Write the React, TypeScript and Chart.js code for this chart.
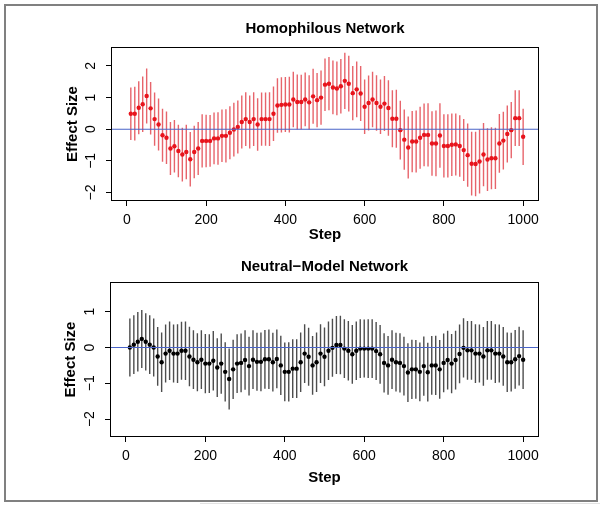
import React, { useEffect, useRef } from "react";
import { Chart, registerables } from "chart.js";

Chart.register(...registerables);

const FONT = '"Liberation Sans", Arial, Helvetica, sans-serif';

const STEPS = [
  10, 20, 30, 40, 50, 60, 70, 80, 90, 100,
  110, 120, 130, 140, 150, 160, 170, 180, 190, 200,
  210, 220, 230, 240, 250, 260, 270, 280, 290, 300,
  310, 320, 330, 340, 350, 360, 370, 380, 390, 400,
  410, 420, 430, 440, 450, 460, 470, 480, 490, 500,
  510, 520, 530, 540, 550, 560, 570, 580, 590, 600,
  610, 620, 630, 640, 650, 660, 670, 680, 690, 700,
  710, 720, 730, 740, 750, 760, 770, 780, 790, 800,
  810, 820, 830, 840, 850, 860, 870, 880, 890, 900,
  910, 920, 930, 940, 950, 960, 970, 980, 990, 1000,
];

const HOMO_EFFECT = [
  0.49, 0.49, 0.68, 0.79, 1.05, 0.66, 0.32, 0.15, -0.19, -0.27,
  -0.61, -0.54, -0.69, -0.8, -0.72, -0.95, -0.72, -0.61, -0.37, -0.37,
  -0.37, -0.29, -0.29, -0.21, -0.21, -0.11, -0.01, 0.07, 0.23, 0.32,
  0.23, 0.32, 0.15, 0.32, 0.32, 0.32, 0.49, 0.75, 0.77, 0.78,
  0.78, 0.94, 0.86, 0.86, 0.94, 0.85, 1.04, 0.92, 1.0, 1.41,
  1.44, 1.32, 1.29, 1.36, 1.53, 1.44, 1.14, 1.26, 1.13, 0.71,
  0.83, 0.94, 0.83, 0.71, 0.81, 0.67, 0.33, 0.33, -0.03, -0.33,
  -0.58, -0.39, -0.39, -0.27, -0.18, -0.18, -0.45, -0.45, -0.2, -0.53,
  -0.53, -0.49, -0.48, -0.53, -0.66, -0.82, -1.09, -1.1, -1.02, -0.8,
  -0.96, -0.92, -0.92, -0.45, -0.36, -0.15, -0.03, 0.35, 0.35, -0.24,
];

const HOMO_ERR = [
  0.83, 0.85, 0.84, 0.88, 0.87, 0.83, 0.84, 0.82, 0.84, 0.83,
  0.84, 0.83, 0.83, 0.85, 0.86, 0.86, 0.83, 0.84, 0.84, 0.83,
  0.82, 0.82, 0.83, 0.83, 0.84, 0.84, 0.85, 0.84, 0.84, 0.85,
  0.84, 0.85, 0.83, 0.84, 0.84, 0.85, 0.86, 0.86, 0.87, 0.87,
  0.88, 0.88, 0.87, 0.86, 0.85, 0.86, 0.87, 0.86, 0.86, 0.83,
  0.84, 0.85, 0.85, 0.86, 0.89, 0.88, 0.86, 0.88, 0.87, 0.86,
  0.87, 0.88, 0.88, 0.86, 0.87, 0.88, 0.9, 0.92, 0.93, 0.95,
  0.98, 0.97, 0.98, 0.98, 0.99, 1.0, 1.02, 1.04, 1.02, 1.0,
  1.0, 0.99, 0.98, 0.97, 0.98, 1.0, 1.01, 1.02, 1.01, 1.0,
  0.99, 0.98, 0.97, 0.93, 0.91, 0.9, 0.89, 0.88, 0.88, 0.89,
];

const NEUTRAL_EFFECT = [
  0.0, 0.08, 0.16, 0.24, 0.16, 0.08, 0.0, -0.25, -0.41, -0.17,
  -0.09, -0.17, -0.17, -0.09, -0.09, -0.25, -0.34, -0.41, -0.34, -0.45,
  -0.45, -0.37, -0.56, -0.45, -0.68, -0.88, -0.61, -0.45, -0.43, -0.35,
  -0.52, -0.34, -0.4, -0.4, -0.33, -0.33, -0.41, -0.32, -0.5, -0.68,
  -0.68, -0.59, -0.59, -0.41, -0.17, -0.26, -0.5, -0.41, -0.17, -0.26,
  -0.09, -0.01, 0.07, 0.07, -0.03, -0.09, -0.19, -0.09, -0.03, -0.03,
  -0.03, -0.03, -0.1, -0.19, -0.43, -0.5, -0.34, -0.41, -0.43, -0.52,
  -0.7, -0.61, -0.61, -0.68, -0.52, -0.69, -0.5, -0.5, -0.61, -0.43,
  -0.35, -0.45, -0.35, -0.18, -0.01, -0.08, -0.08, -0.17, -0.17, -0.25,
  -0.08, -0.08, -0.17, -0.17, -0.25, -0.41, -0.41, -0.33, -0.24, -0.34,
];

const NEUTRAL_ERR = [
  0.81, 0.82, 0.83, 0.81, 0.8, 0.82, 0.81, 0.82, 0.83, 0.81,
  0.82, 0.81, 0.82, 0.81, 0.82, 0.83, 0.82, 0.81, 0.82, 0.83,
  0.82, 0.83, 0.82, 0.84, 0.83, 0.85, 0.83, 0.82, 0.82, 0.83,
  0.82, 0.82, 0.81, 0.82, 0.82, 0.83, 0.82, 0.82, 0.83, 0.82,
  0.83, 0.82, 0.82, 0.83, 0.82, 0.81, 0.82, 0.83, 0.82, 0.82,
  0.82, 0.81, 0.81, 0.82, 0.82, 0.83, 0.82, 0.82, 0.82, 0.81,
  0.82, 0.82, 0.81, 0.82, 0.83, 0.82, 0.82, 0.82, 0.83, 0.82,
  0.82, 0.83, 0.82, 0.82, 0.83, 0.82, 0.82, 0.83, 0.82, 0.82,
  0.82, 0.83, 0.82, 0.82, 0.83, 0.82, 0.82, 0.82, 0.81, 0.82,
  0.82, 0.82, 0.82, 0.81, 0.82, 0.83, 0.82, 0.82, 0.82, 0.82,
];

const X_TICKS = [0, 200, 400, 600, 800, 1000];
const HOMO_Y_TICKS = [-2, -1, 0, 1, 2];
const NEUTRAL_Y_TICKS = [-2, -1, 0, 1];
const X_MIN = -40;
const X_MAX = 1040;

type PanelProps = {
  title: string;
  values: number[];
  errs: number[];
  yTicks: number[];
  yMin: number;
  yMax: number;
  pointColor: string;
  barColor: string;
  offsetTop: number;
  height: number;
  areaLeft: number;
  areaRight: number;
  areaTop: number;
  xAxisHeight: number;
  titleBaseline: number;
  stepBaseline: number;
  yTickX: number;
  yTitleX: number;
};

const fmt = (v: number) => (v < 0 ? "\u2212" + Math.abs(v) : String(v));

function decorPlugin(p: PanelProps) {
  return {
    id: "rDecor",
    afterDraw(chart: any) {
      const { ctx, chartArea: a, scales } = chart;
      ctx.save();
      ctx.strokeStyle = "#000";
      ctx.lineWidth = 1;
      const l = Math.round(a.left) + 0.5;
      const t = Math.round(a.top) + 0.5;
      const r = Math.round(a.right) - 0.5;
      const b = Math.round(a.bottom) - 0.5;
      ctx.strokeRect(l, t, r - l, b - t);

      ctx.fillStyle = "#000";
      ctx.textBaseline = "alphabetic";
      ctx.textAlign = "center";
      const cx = (a.left + a.right) / 2;
      ctx.font = `bold 15px ${FONT}`;
      ctx.fillText(p.title, cx, p.titleBaseline);
      ctx.fillText("Step", cx, p.stepBaseline);

      ctx.font = `14px ${FONT}`;
      p.yTicks.forEach((v) => {
        const y = scales.y.getPixelForValue(v);
        ctx.save();
        ctx.translate(p.yTickX, y);
        ctx.rotate(-Math.PI / 2);
        ctx.fillText(fmt(v), 0, 0);
        ctx.restore();
      });

      ctx.font = `bold 15px ${FONT}`;
      ctx.save();
      ctx.translate(p.yTitleX, (a.top + a.bottom) / 2);
      ctx.rotate(-Math.PI / 2);
      ctx.fillText("Effect Size", 0, 0);
      ctx.restore();
      ctx.restore();
    },
  };
}

function buildConfig(p: PanelProps): any {
  const bars: { x: number; y: number | null }[] = [];
  STEPS.forEach((s, i) => {
    bars.push({ x: s, y: p.values[i] - p.errs[i] });
    bars.push({ x: s, y: p.values[i] + p.errs[i] });
    bars.push({ x: s, y: null });
  });
  const points = STEPS.map((s, i) => ({ x: s, y: p.values[i] }));
  const gridCommon = {
    display: true,
    drawOnChartArea: false,
    drawTicks: true,
    tickLength: 5,
    color: "#000",
    lineWidth: 1,
  };
  return {
    type: "scatter",
    data: {
      datasets: [
        {
          data: [
            { x: X_MIN, y: 0 },
            { x: X_MAX, y: 0 },
          ],
          showLine: true,
          borderColor: "#4a64c8",
          borderWidth: 1.1,
          pointRadius: 0,
          order: 0,
        },
        {
          data: points,
          showLine: false,
          pointRadius: 2.2,
          pointBackgroundColor: p.pointColor,
          pointBorderColor: p.pointColor,
          pointBorderWidth: 0,
          order: 1,
        },
        {
          data: bars,
          showLine: true,
          spanGaps: false,
          borderColor: p.barColor,
          borderWidth: 1.4,
          pointRadius: 0,
          order: 2,
        },
      ],
    },
    options: {
      animation: false,
      responsive: false,
      events: [],
      layout: {
        padding: { left: 0, top: p.areaTop, right: 600 - p.areaRight, bottom: 0 },
      },
      plugins: {
        legend: { display: false },
        tooltip: { enabled: false },
        title: { display: false },
      },
      scales: {
        x: {
          type: "linear",
          min: X_MIN,
          max: X_MAX,
          afterFit: (s: any) => {
            s.height = p.xAxisHeight;
          },
          afterBuildTicks: (s: any) => {
            s.ticks = X_TICKS.map((v) => ({ value: v }));
          },
          grid: gridCommon,
          border: { display: false },
          ticks: {
            font: { family: FONT, size: 14 },
            color: "#000",
            padding: 6,
            maxRotation: 0,
            autoSkip: false,
            callback: (v: number) => String(v),
          },
        },
        y: {
          type: "linear",
          min: p.yMin,
          max: p.yMax,
          afterFit: (s: any) => {
            s.width = p.areaLeft;
          },
          afterBuildTicks: (s: any) => {
            s.ticks = p.yTicks.map((v) => ({ value: v }));
          },
          grid: gridCommon,
          border: { display: false },
          ticks: { display: false },
        },
      },
    },
    plugins: [decorPlugin(p)],
  };
}

function Panel(p: PanelProps) {
  const ref = useRef<HTMLCanvasElement>(null);
  useEffect(() => {
    const chart = new Chart(ref.current as HTMLCanvasElement, buildConfig(p));
    return () => chart.destroy();
  }, []);
  return (
    <canvas
      ref={ref}
      width={600}
      height={p.height}
      style={{ position: "absolute", left: 0, top: p.offsetTop, width: 600, height: p.height }}
    />
  );
}

export default function App() {
  return (
    <div
      style={{
        position: "fixed",
        left: 0,
        top: 0,
        width: 600,
        height: 505,
        background: "#fff",
        overflow: "hidden",
      }}
    >
      <div
        style={{
          position: "absolute",
          left: 4,
          top: 4,
          width: 594,
          height: 498,
          boxSizing: "border-box",
          border: "2px solid #808080",
        }}
      />
      <div
        style={{
          position: "absolute",
          left: 200,
          top: 503,
          width: 400,
          height: 1,
          background: "#e2e2e2",
        }}
      />
      <Panel
        title="Homophilous Network"
        values={HOMO_EFFECT}
        errs={HOMO_ERR}
        yTicks={HOMO_Y_TICKS}
        yMin={-2.27}
        yMax={2.6}
        pointColor="#e8141c"
        barColor="rgba(222,40,50,0.72)"
        offsetTop={0}
        height={250}
        areaLeft={111}
        areaRight={539}
        areaTop={47}
        xAxisHeight={49}
        titleBaseline={33}
        stepBaseline={239}
        yTickX={94.5}
        yTitleX={77}
      />
      <Panel
        title={"Neutral\u2212Model Network"}
        values={NEUTRAL_EFFECT}
        errs={NEUTRAL_ERR}
        yTicks={NEUTRAL_Y_TICKS}
        yMin={-2.5}
        yMax={1.83}
        pointColor="#000"
        barColor="#4d4d4d"
        offsetTop={250}
        height={255}
        areaLeft={110}
        areaRight={539}
        areaTop={32}
        xAxisHeight={68}
        titleBaseline={21}
        stepBaseline={232}
        yTickX={94}
        yTitleX={75}
      />
    </div>
  );
}
